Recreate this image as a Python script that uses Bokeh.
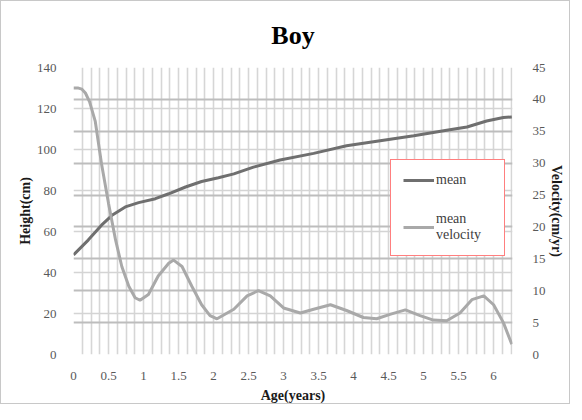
import numpy as np
from bokeh.plotting import figure
from bokeh.models import (Range1d, LinearAxis, FixedTicker, Grid, Legend, LegendItem)
from bokeh.embed import file_html
from bokeh.resources import INLINE

# ---- data ----
ages_h = [0, 0.21, 0.4, 0.55, 0.74, 0.93, 1.17, 1.36, 1.6, 1.83, 2.07, 2.29, 2.57,
          2.95, 3.43, 3.9, 4.38, 4.86, 5.33, 5.62, 5.9, 6.14, 6.26]
mean_height = [48.6, 55.8, 63.1, 67.9, 72.0, 74.1, 76.0, 78.4, 81.7, 84.4, 86.2, 88.1, 91.4,
               94.9, 98.1, 101.8, 104.3, 106.7, 109.4, 111.0, 113.9, 115.6, 115.9]

ages_v = [0, 0.06, 0.12, 0.17, 0.23, 0.31, 0.40, 0.50, 0.60, 0.69, 0.79, 0.88, 0.95, 1.07, 1.21,
          1.36, 1.43, 1.55, 1.69, 1.83, 1.95, 2.05, 2.29, 2.48, 2.64, 2.81, 3.0, 3.24, 3.43,
          3.67, 3.9, 4.14, 4.33, 4.52, 4.74, 4.95, 5.14, 5.33, 5.52, 5.69, 5.86, 6.0,
          6.14, 6.26]
mean_velocity = [41.8, 41.8, 41.6, 41.0, 39.6, 36.6, 29.9, 23.7, 18.0, 13.8, 10.7, 8.9, 8.5, 9.4, 12.3,
                 14.3, 14.8, 13.8, 10.7, 7.8, 6.1, 5.6, 7.1, 9.2, 10.0, 9.2, 7.3, 6.5, 7.1,
                 7.8, 6.9, 5.8, 5.6, 6.3, 7.0, 6.1, 5.4, 5.3, 6.5, 8.6, 9.2, 7.8,
                 5.0, 1.6]

x_ticks = [0, 0.5, 1, 1.5, 2, 2.5, 3, 3.5, 4, 4.5, 5, 5.5, 6]
x_labels = ["0", "0.5", "1", "1.5", "2", "2.5", "3", "3.5", "4", "4.5", "5", "5.5", "6"]
left_ticks = [0, 20, 40, 60, 80, 100, 120, 140]
right_ticks = [0, 5, 10, 15, 20, 25, 30, 35, 40, 45]

FONT = "Liberation Serif"

p = figure(width=570, height=404, output_backend="svg", toolbar_location=None,
           x_range=Range1d(0, 6.27), y_range=Range1d(0, 140),
           min_border_left=72, min_border_right=59, min_border_top=65, min_border_bottom=50)
p.styles = {"border": "1px solid #c8c8c8"}
p.outline_line_color = None
p.background_fill_color = "white"
p.border_fill_color = "white"

p.title.text = "Boy"
p.title.align = "center"
p.title.text_font = FONT
p.title.text_font_size = "26px"
p.title.text_font_style = "bold"
p.title.text_color = "black"
p.title.offset = 0
p.title.standoff = 35

p.extra_y_ranges = {"vel": Range1d(0, 45)}

# grids
p.xgrid.ticker = FixedTicker(ticks=list(np.arange(0, 6.3, 0.125)))
p.xgrid.grid_line_color = "#d6d6d6"
p.xgrid.grid_line_width = 1.6
p.ygrid.ticker = FixedTicker(ticks=left_ticks)
p.ygrid.grid_line_color = "#d4d4d4"
p.ygrid.grid_line_width = 1.6
g2 = Grid(dimension=1, ticker=FixedTicker(ticks=right_ticks), y_range_name="vel",
          grid_line_color="#bdbdbd", grid_line_width=2.2)
p.add_layout(g2)

def style_axis(ax, label, standoff):
    ax.axis_line_color = None
    ax.major_tick_line_color = None
    ax.minor_tick_line_color = None
    ax.major_label_text_font = FONT
    ax.major_label_text_font_size = "13px"
    ax.major_label_text_color = "#595959"
    ax.axis_label = label
    ax.axis_label_text_font = FONT
    ax.axis_label_text_font_size = "14px"
    ax.axis_label_text_font_style = "bold"
    ax.axis_label_text_color = "#1a1a1a"
    ax.axis_label_standoff = standoff

xa = p.xaxis[0]
xa.ticker = FixedTicker(ticks=x_ticks)
xa.major_label_overrides = {t: l for t, l in zip(x_ticks, x_labels)}
style_axis(xa, "Age(years)", 5)
xa.major_label_standoff = 11

ya = p.yaxis[0]
ya.ticker = FixedTicker(ticks=left_ticks)
style_axis(ya, "Height(cm)", 1)
ya.major_label_standoff = 11

ra = LinearAxis(y_range_name="vel", ticker=FixedTicker(ticks=right_ticks))
style_axis(ra, "Velocity(cm/yr)", 0)
ra.axis_label_orientation = "vertical"
ra.major_label_standoff = 14
p.add_layout(ra, "right")

r1 = p.line(ages_h, mean_height, line_color="#6f6f6f", line_width=3)
r2 = p.line(ages_v, mean_velocity, line_color="#a9a9a9", line_width=3, y_range_name="vel")

legend = Legend(items=[LegendItem(label="mean", renderers=[r1]),
                       LegendItem(label="mean\nvelocity", renderers=[r2])],
                location=(317, 98), orientation="vertical",
                label_text_font=FONT, label_text_font_size="14px",
                label_text_color="#404040", border_line_color="red",
                background_fill_color="white", background_fill_alpha=1.0,
                glyph_width=31, glyph_height=10, label_height=10, label_width=56,
                label_standoff=2, spacing=23, padding=12, margin=0)
p.add_layout(legend)

open("out.html", "w").write(file_html(p, INLINE))
